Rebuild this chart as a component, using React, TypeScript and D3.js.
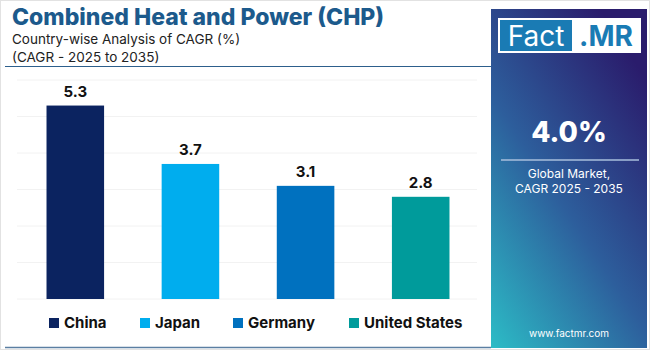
import React from "react";
import * as d3 from "d3";

// values
const countries = ["China", "Japan", "Germany", "United States"];
const cagr = [5.3, 3.7, 3.1, 2.8];
const barColors = ["#0b2360", "#00adee", "#0071bf", "#009b9b"];
const yTicks = [0, 1, 2, 3, 4, 5, 6];

const W = 650;
const H = 350;
const font = "Inter, 'Open Sans', sans-serif";

export default function App() {
  const x = d3.scaleBand<string>()
    .domain(countries)
    .range([35, 461])
    .paddingInner(0.5)
    .paddingOuter(0.1);

  const y = d3.scaleLinear().domain([0, 6]).range([299, 80]);

  const legendX = [49, 140, 233, 349];

  return (
    <div style={{ position: "absolute", left: 0, top: 0 }}>
      <svg width={W} height={H} style={{ display: "block", background: "#fff" }}>
        <defs>
          <linearGradient id="panelGrad" x1="0" y1="1" x2="0.7" y2="0">
            <stop offset="0" stopColor="#2cbcc6" />
            <stop offset="0.5" stopColor="#2d5e9c" />
            <stop offset="1" stopColor="#2a1c6c" />
          </linearGradient>
        </defs>

        {/* frame */}
        <rect x={0.5} y={0.5} width={W - 1} height={H - 1} fill="none" stroke="#e2e2e2" />

        {/* title block */}
        <text x={12} y={25} fontFamily={font} fontWeight={800} fontSize={23} fill="#1c5a8c">
          Combined Heat and Power (CHP)
        </text>
        <text x={12} y={44} fontFamily={font} fontSize={13.5} fill="#222">
          Country-wise Analysis of CAGR (%)
        </text>
        <text x={12} y={62} fontFamily={font} fontSize={13.5} fill="#222">
          (CAGR - 2025 to 2035)
        </text>
        <line x1={5} x2={491} y1={66.5} y2={66.5} stroke="#2d5f8c" strokeWidth={1.2} />

        {/* grid */}
        {yTicks.map(t => (
          <line key={t} x1={17} x2={477} y1={y(t)} y2={y(t)} stroke="#f2f2f2" strokeWidth={1} />
        ))}

        {/* bars */}
        {countries.map((c, i) => (
          <g key={c}>
            <rect
              x={x(c)}
              y={y(cagr[i])}
              width={x.bandwidth()}
              height={y(0) - y(cagr[i])}
              fill={barColors[i]}
            />
            <text
              x={(x(c) ?? 0) + x.bandwidth() / 2}
              y={y(cagr[i]) - 9}
              textAnchor="middle"
              fontFamily={font}
              fontWeight={700}
              fontSize={15}
              fill="#111"
            >
              {cagr[i].toFixed(1)}
            </text>
          </g>
        ))}

        {/* legend */}
        {countries.map((c, i) => (
          <g key={"lg" + c} transform={`translate(${legendX[i]},0)`}>
            <rect x={0} y={318} width={10} height={10} fill={barColors[i]} />
            <text x={15} y={328} fontFamily={font} fontWeight={700} fontSize={15} fill="#111">
              {c}
            </text>
          </g>
        ))}

        <line x1={5} x2={491} y1={347.5} y2={347.5} stroke="#5b7fa2" strokeWidth={1.5} />

        {/* side panel */}
        <rect x={491} y={9} width={156} height={339} fill="url(#panelGrad)" />
        <rect x={498} y={18} width={143} height={35} fill="#fff" />
        <rect x={500} y={20} width={72} height={31} fill="#1a7bb4" />
        <text x={536} y={46} textAnchor="middle" fontFamily={font} fontSize={28} fill="#fff">
          Fact
        </text>
        <text x={606} y={46} textAnchor="middle" fontFamily={font} fontWeight={700} fontSize={28} fill="#1a7bb4">
          .MR
        </text>

        <text x={569} y={142} textAnchor="middle" fontFamily={font} fontWeight={800} fontSize={28} fill="#fff">
          4.0%
        </text>
        <line x1={501} x2={639} y1={160} y2={160} stroke="#a9bfdc" strokeWidth={1.5} />
        <text x={569} y={178} textAnchor="middle" fontFamily={font} fontSize={12} fill="#fff">
          Global Market,
        </text>
        <text x={569} y={193} textAnchor="middle" fontFamily={font} fontSize={12} fill="#fff">
          CAGR 2025 - 2035
        </text>
        <text x={569} y={337} textAnchor="middle" fontFamily={font} fontSize={10} fill="#fff">
          www.factmr.com
        </text>
      </svg>
    </div>
  );
}
